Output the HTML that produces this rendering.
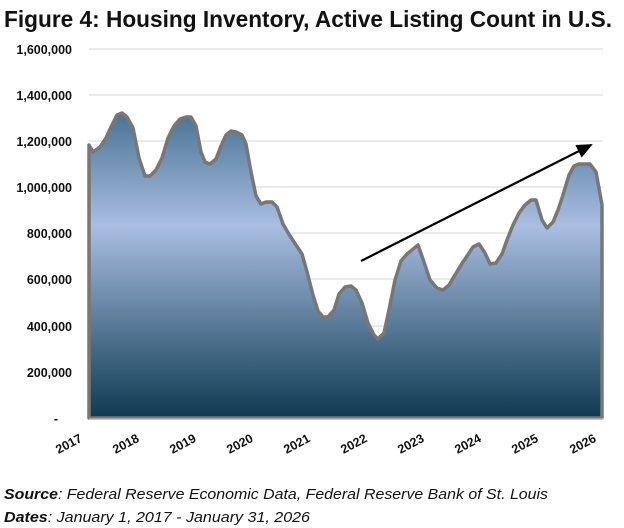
<!DOCTYPE html>
<html><head><style>
html,body{margin:0;padding:0;background:#fff;width:624px;height:528px;overflow:hidden}
</style></head><body>
<svg width="624" height="528" xmlns="http://www.w3.org/2000/svg" font-family="Liberation Sans, sans-serif">
<defs>
<linearGradient id="g" x1="0" y1="113" x2="0" y2="418" gradientUnits="userSpaceOnUse">
<stop offset="0" stop-color="#4a7393"/>
<stop offset="0.37" stop-color="#a9bee2"/>
<stop offset="1" stop-color="#0e3a52"/>
</linearGradient>
<marker id="ah" markerWidth="16" markerHeight="14" refX="14" refY="7" orient="auto" markerUnits="userSpaceOnUse">
<path d="M0,0 L16,7 L0,14 z" fill="#000"/>
</marker>
</defs>
<text x="4" y="27" font-size="23" font-weight="bold" fill="#111" textLength="608" lengthAdjust="spacingAndGlyphs">Figure 4: Housing Inventory, Active Listing Count in U.S.</text>
<g stroke="#e3e3e3" stroke-width="1.5">
<line x1="89" x2="603" y1="49" y2="49"/><line x1="89" x2="603" y1="95" y2="95"/>
<line x1="89" x2="603" y1="141" y2="141"/><line x1="89" x2="603" y1="187" y2="187"/>
<line x1="89" x2="603" y1="233" y2="233"/><line x1="89" x2="603" y1="279" y2="279"/>
<line x1="89" x2="603" y1="326" y2="326"/><line x1="89" x2="603" y1="372" y2="372"/>
</g>
<g font-size="12.5" font-weight="bold" fill="#111" text-anchor="end">
<text x="72" y="54">1,600,000</text><text x="72" y="100">1,400,000</text>
<text x="72" y="146">1,200,000</text><text x="72" y="192">1,000,000</text>
<text x="72" y="238">800,000</text><text x="72" y="284">600,000</text>
<text x="72" y="331">400,000</text><text x="72" y="377">200,000</text>
<text x="58" y="423">-</text>
</g>
<polygon fill="url(#g)" stroke="#777" stroke-width="3.5" stroke-linejoin="round" points="89,145 93,152 100,147 106,138 111,127 117,115 122,113 127,117 133,128 139,158 145,176 150,176 156,170 162,158 168,138 174,126 180,119 186,117 191,117 196,126 201,152 205,162 210,164 216,159 221,146 226,135 231,131 236,132 242,135 246,144 251,172 256,196 261,204 266,202 272,202 277,207 283,224 290,236 296,245 302,254 307,272 313,295 318,311 323,317 328,317 334,310 339,294 345,287 351,286 356,290 362,303 368,323 374,335 378,339 384,333 389,310 395,280 401,261 407,254 412,250 418,245 424,262 430,280 437,288 443,290 449,285 455,275 461,265 467,256 473,247 479,244 485,253 490,264 496,263 502,254 507,240 513,225 519,213 525,205 531,200 536,200 542,220 547,228 553,222 558,210 563,195 569,175 574,166 579,164 585,164 590,164 596,172 602,205 602,418 89,418"/>
<line x1="89" y1="419" x2="604" y2="419" stroke="#ccc" stroke-width="1"/>
<line x1="361" y1="261" x2="591" y2="145" stroke="#000" stroke-width="2.2" marker-end="url(#ah)"/>
<g font-size="12.5" font-weight="bold" fill="#111" text-anchor="end">
<text transform="translate(83,441) rotate(-28)">2017</text>
<text transform="translate(140,441) rotate(-28)">2018</text>
<text transform="translate(197,441) rotate(-28)">2019</text>
<text transform="translate(254,441) rotate(-28)">2020</text>
<text transform="translate(311,441) rotate(-28)">2021</text>
<text transform="translate(368,441) rotate(-28)">2022</text>
<text transform="translate(425,441) rotate(-28)">2023</text>
<text transform="translate(482,441) rotate(-28)">2024</text>
<text transform="translate(539,441) rotate(-28)">2025</text>
<text transform="translate(597,441) rotate(-28)">2026</text>
</g>
<text x="4" y="499" font-size="15" font-style="italic" fill="#111" textLength="544" lengthAdjust="spacingAndGlyphs"><tspan font-weight="bold">Source</tspan>: Federal Reserve Economic Data, Federal Reserve Bank of St. Louis</text>
<text x="4" y="522" font-size="15" font-style="italic" fill="#111" textLength="306" lengthAdjust="spacingAndGlyphs"><tspan font-weight="bold">Dates</tspan>: January 1, 2017 - January 31, 2026</text>
</svg>
</body></html>
